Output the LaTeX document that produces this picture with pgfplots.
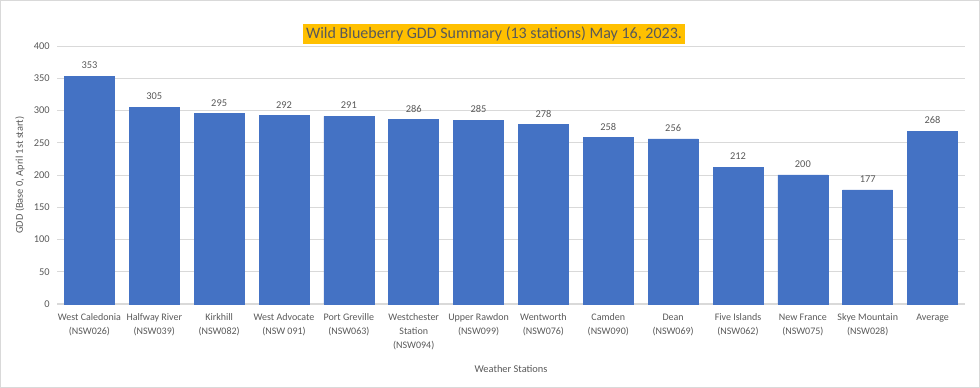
\documentclass[border=0pt]{standalone}
\usepackage{pgfplots}
\pgfplotsset{compat=1.18}
\usepackage{fontspec}
\setmainfont{Carlito}
\definecolor{barblue}{HTML}{4472C4}
\definecolor{txtgray}{HTML}{595959}
\definecolor{gridgray}{HTML}{D9D9D9}
\definecolor{titleorange}{HTML}{FFC000}
\begin{document}
\begin{tikzpicture}[x=0.75pt,y=0.75pt]
\draw[gridgray, line width=0.75pt] (0.5,0.5) rectangle (979.5,387.5);
\coordinate (ll) at (57,84);
\begin{axis}[
  at={(ll)}, anchor=south west,
  scale only axis,
  width=681pt, height=193.5pt,
  ybar, bar width=37.5pt,
  xmin=-0.5, xmax=13.5, ymin=0, ymax=400,
  ytick={0,50,...,400},
  xtick={0,...,13},
  xticklabels={{West Caledonia\\(NSW026)},{Halfway River\\(NSW039)},{Kirkhill\\(NSW082)},{West Advocate\\(NSW 091)},{Port Greville\\(NSW063)},{Westchester\\Station\\(NSW094)},{Upper Rawdon\\(NSW099)},{Wentworth\\(NSW076)},{Camden\\(NSW090)},{Dean\\(NSW069)},{Five Islands\\(NSW062)},{New France\\(NSW075)},{Skye Mountain\\(NSW028)},{Average}},
  xticklabel style={align=center, font=\fontsize{7.5}{10.5}\selectfont, text=txtgray, anchor=north, yshift=-4pt},
  yticklabel style={font=\fontsize{7.8}{9}\selectfont, text=txtgray, xshift=-2pt},
  /pgf/number format/assume math mode=true,
  ymajorgrids, grid style={gridgray, line width=0.6pt},
  axis x line*=bottom, axis y line*=left,
  x axis line style={gridgray, line width=0.75pt, -},
  y axis line style={draw=none},
  major tick length=0pt,
  nodes near coords,
  every node near coord/.append style={font=\fontsize{7.8}{9}\selectfont, text=txtgray, yshift=2pt},
  xlabel={Weather Stations},
  xlabel style={font=\fontsize{7.8}{9}\selectfont, text=txtgray, yshift=-4pt},
  ylabel={GDD (Base 0, April 1st start)},
  ylabel style={font=\fontsize{7.8}{9}\selectfont, text=txtgray},
  clip=false,
]
\addplot[fill=barblue, draw=barblue] coordinates {
(0,353) (1,305) (2,295) (3,292) (4,291) (5,286) (6,285) (7,278) (8,258) (9,256) (10,212) (11,200) (12,177) (13,268)
};
\end{axis}
\node[fill=titleorange, text=txtgray, font=\fontsize{12}{14}\selectfont, inner sep=2.5pt] at (494,354) {Wild Blueberry GDD Summary (13 stations) May 16, 2023.};
\end{tikzpicture}
\end{document}
